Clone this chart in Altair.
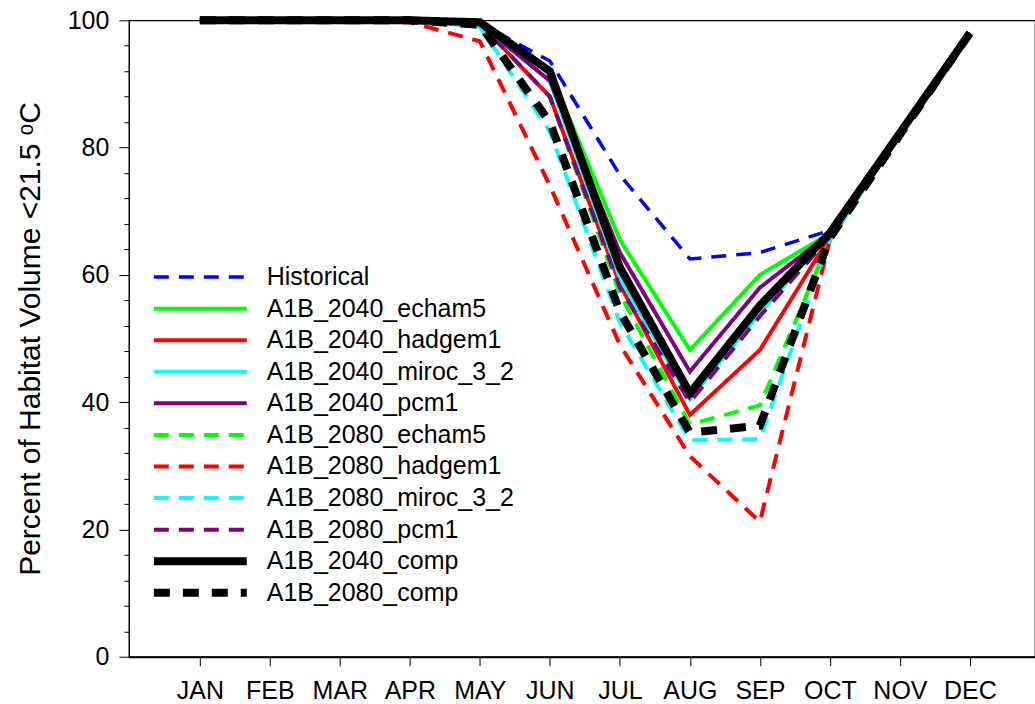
import altair as alt
import pandas as pd

months = ["JAN", "FEB", "MAR", "APR", "MAY", "JUN", "JUL", "AUG", "SEP", "OCT", "NOV", "DEC"]

series_names = [
    "Historical",
    "A1B_2040_echam5",
    "A1B_2040_hadgem1",
    "A1B_2040_miroc_3_2",
    "A1B_2040_pcm1",
    "A1B_2080_echam5",
    "A1B_2080_hadgem1",
    "A1B_2080_miroc_3_2",
    "A1B_2080_pcm1",
    "A1B_2040_comp",
    "A1B_2080_comp",
]

historical = [100, 100, 100, 100, 99.6, 93.6, 75.7, 62.5, 63.5, 67.0, 82.5, 98.0]
a2040_echam5 = [100, 100, 100, 100, 99.6, 92.0, 65.5, 48.2, 60.0, 66.5, 82.3, 98.0]
a2040_hadgem1 = [100, 100, 100, 100, 99.5, 88.0, 58.5, 38.0, 48.2, 66.0, 82.3, 98.0]
a2040_miroc = [100, 100, 100, 100, 99.3, 90.5, 59.5, 40.5, 54.0, 66.5, 82.3, 98.0]
a2040_pcm1 = [100, 100, 100, 100, 99.5, 90.5, 63.5, 44.8, 58.0, 66.5, 82.3, 98.0]
a2080_echam5 = [100, 100, 100, 100, 99.5, 88.0, 57.0, 36.5, 39.5, 65.5, 82.0, 98.0]
a2080_hadgem1 = [100, 100, 100, 99.7, 96.7, 74.0, 49.0, 31.5, 21.2, 65.5, 82.0, 98.0]
a2080_miroc = [100, 100, 100, 100, 99.0, 82.5, 52.5, 34.0, 34.2, 65.5, 82.0, 98.0]
a2080_pcm1 = [100, 100, 100, 100, 99.5, 88.0, 58.0, 40.0, 53.5, 66.0, 82.0, 98.0]
a2040_comp = [100, 100, 100, 100, 99.7, 92.0, 61.2, 41.4, 55.2, 66.6, 82.3, 98.0]
a2080_comp = [100, 100, 100, 100, 99.3, 84.0, 54.2, 35.2, 36.3, 65.8, 82.0, 98.0]

series_values = [
    historical, a2040_echam5, a2040_hadgem1, a2040_miroc, a2040_pcm1,
    a2080_echam5, a2080_hadgem1, a2080_miroc, a2080_pcm1, a2040_comp, a2080_comp,
]

series_colors = ["#0000ff", "#00ff00", "#ff0000", "#00ffff", "#800080",
                 "#00ff00", "#ff0000", "#00ffff", "#800080", "#000000", "#000000"]
series_dashes = [[15, 10], [1, 0], [1, 0], [1, 0], [1, 0],
                 [15, 10], [15, 10], [15, 10], [15, 10], [1, 0], [16, 13]]
series_widths = [3.5, 4, 4, 4, 4, 4, 4, 4, 4, 8, 8]

rows = []
for name, vals in zip(series_names, series_values):
    for i, v in enumerate(vals):
        rows.append({"series": name, "m": i, "v": v})
df = pd.DataFrame(rows)

legend = alt.Legend(
    title=None, orient="none", legendX=21, legendY=277 - 20 - 12,
    symbolType="stroke", symbolSize=8649, clipHeight=24, rowPadding=6.6,
    labelFontSize=25, labelFont="Liberation Sans", labelColor="black",
    labelOffset=16, labelLimit=0, padding=0,
)

month_expr = str(months) + "[datum.value]"

base = alt.Chart(df).mark_line(strokeCap="butt", strokeJoin="miter").encode(
    x=alt.X("m:Q",
            scale=alt.Scale(domain=[-1.014, 11.93], nice=False, zero=False),
            axis=alt.Axis(values=list(range(12)), labelExpr=month_expr, title=None,
                          tickSize=9, labelPadding=13, domainWidth=2, grid=False)),
    y=alt.Y("v:Q",
            scale=alt.Scale(domain=[0, 100], nice=False),
            axis=alt.Axis(values=list(range(0, 101, 4)),
                          labelExpr="datum.value % 20 === 0 ? datum.label : ''",
                          tickSize={"condition": {"test": "datum.value % 20 === 0", "value": 10}, "value": 5},
                          labelPadding=10, grid=False,
                          title="Percent of Habitat Volume <21.5 \u1d52C",
                          titleFontSize=30, titlePadding=22)),
    color=alt.Color("series:N", scale=alt.Scale(domain=series_names, range=series_colors), legend=legend),
    strokeDash=alt.StrokeDash("series:N", scale=alt.Scale(domain=series_names, range=series_dashes), legend=legend),
    strokeWidth=alt.StrokeWidth("series:N", scale=alt.Scale(type="ordinal", domain=series_names, range=series_widths), legend=legend),
)

comp = ["A1B_2040_comp", "A1B_2080_comp"]
colored = base.transform_filter(~alt.FieldOneOfPredicate(field="series", oneOf=comp))
black = base.transform_filter(alt.FieldOneOfPredicate(field="series", oneOf=comp))

chart = alt.layer(colored, black).properties(
    width=907, height=637,
    padding={"left": 129, "top": 20, "right": 0, "bottom": 47},
    autosize="none",
    background="white",
).configure_view(
    stroke="black", strokeWidth=1.2
).configure_axis(
    labelFont="Liberation Sans", labelFontSize=25, labelColor="black",
    titleFont="Liberation Sans", titleColor="black", titleFontWeight="normal",
    tickColor="black", domainColor="black", tickWidth=1,
)

chart.save("out.html", embed_options={"renderer": "svg", "actions": False})
